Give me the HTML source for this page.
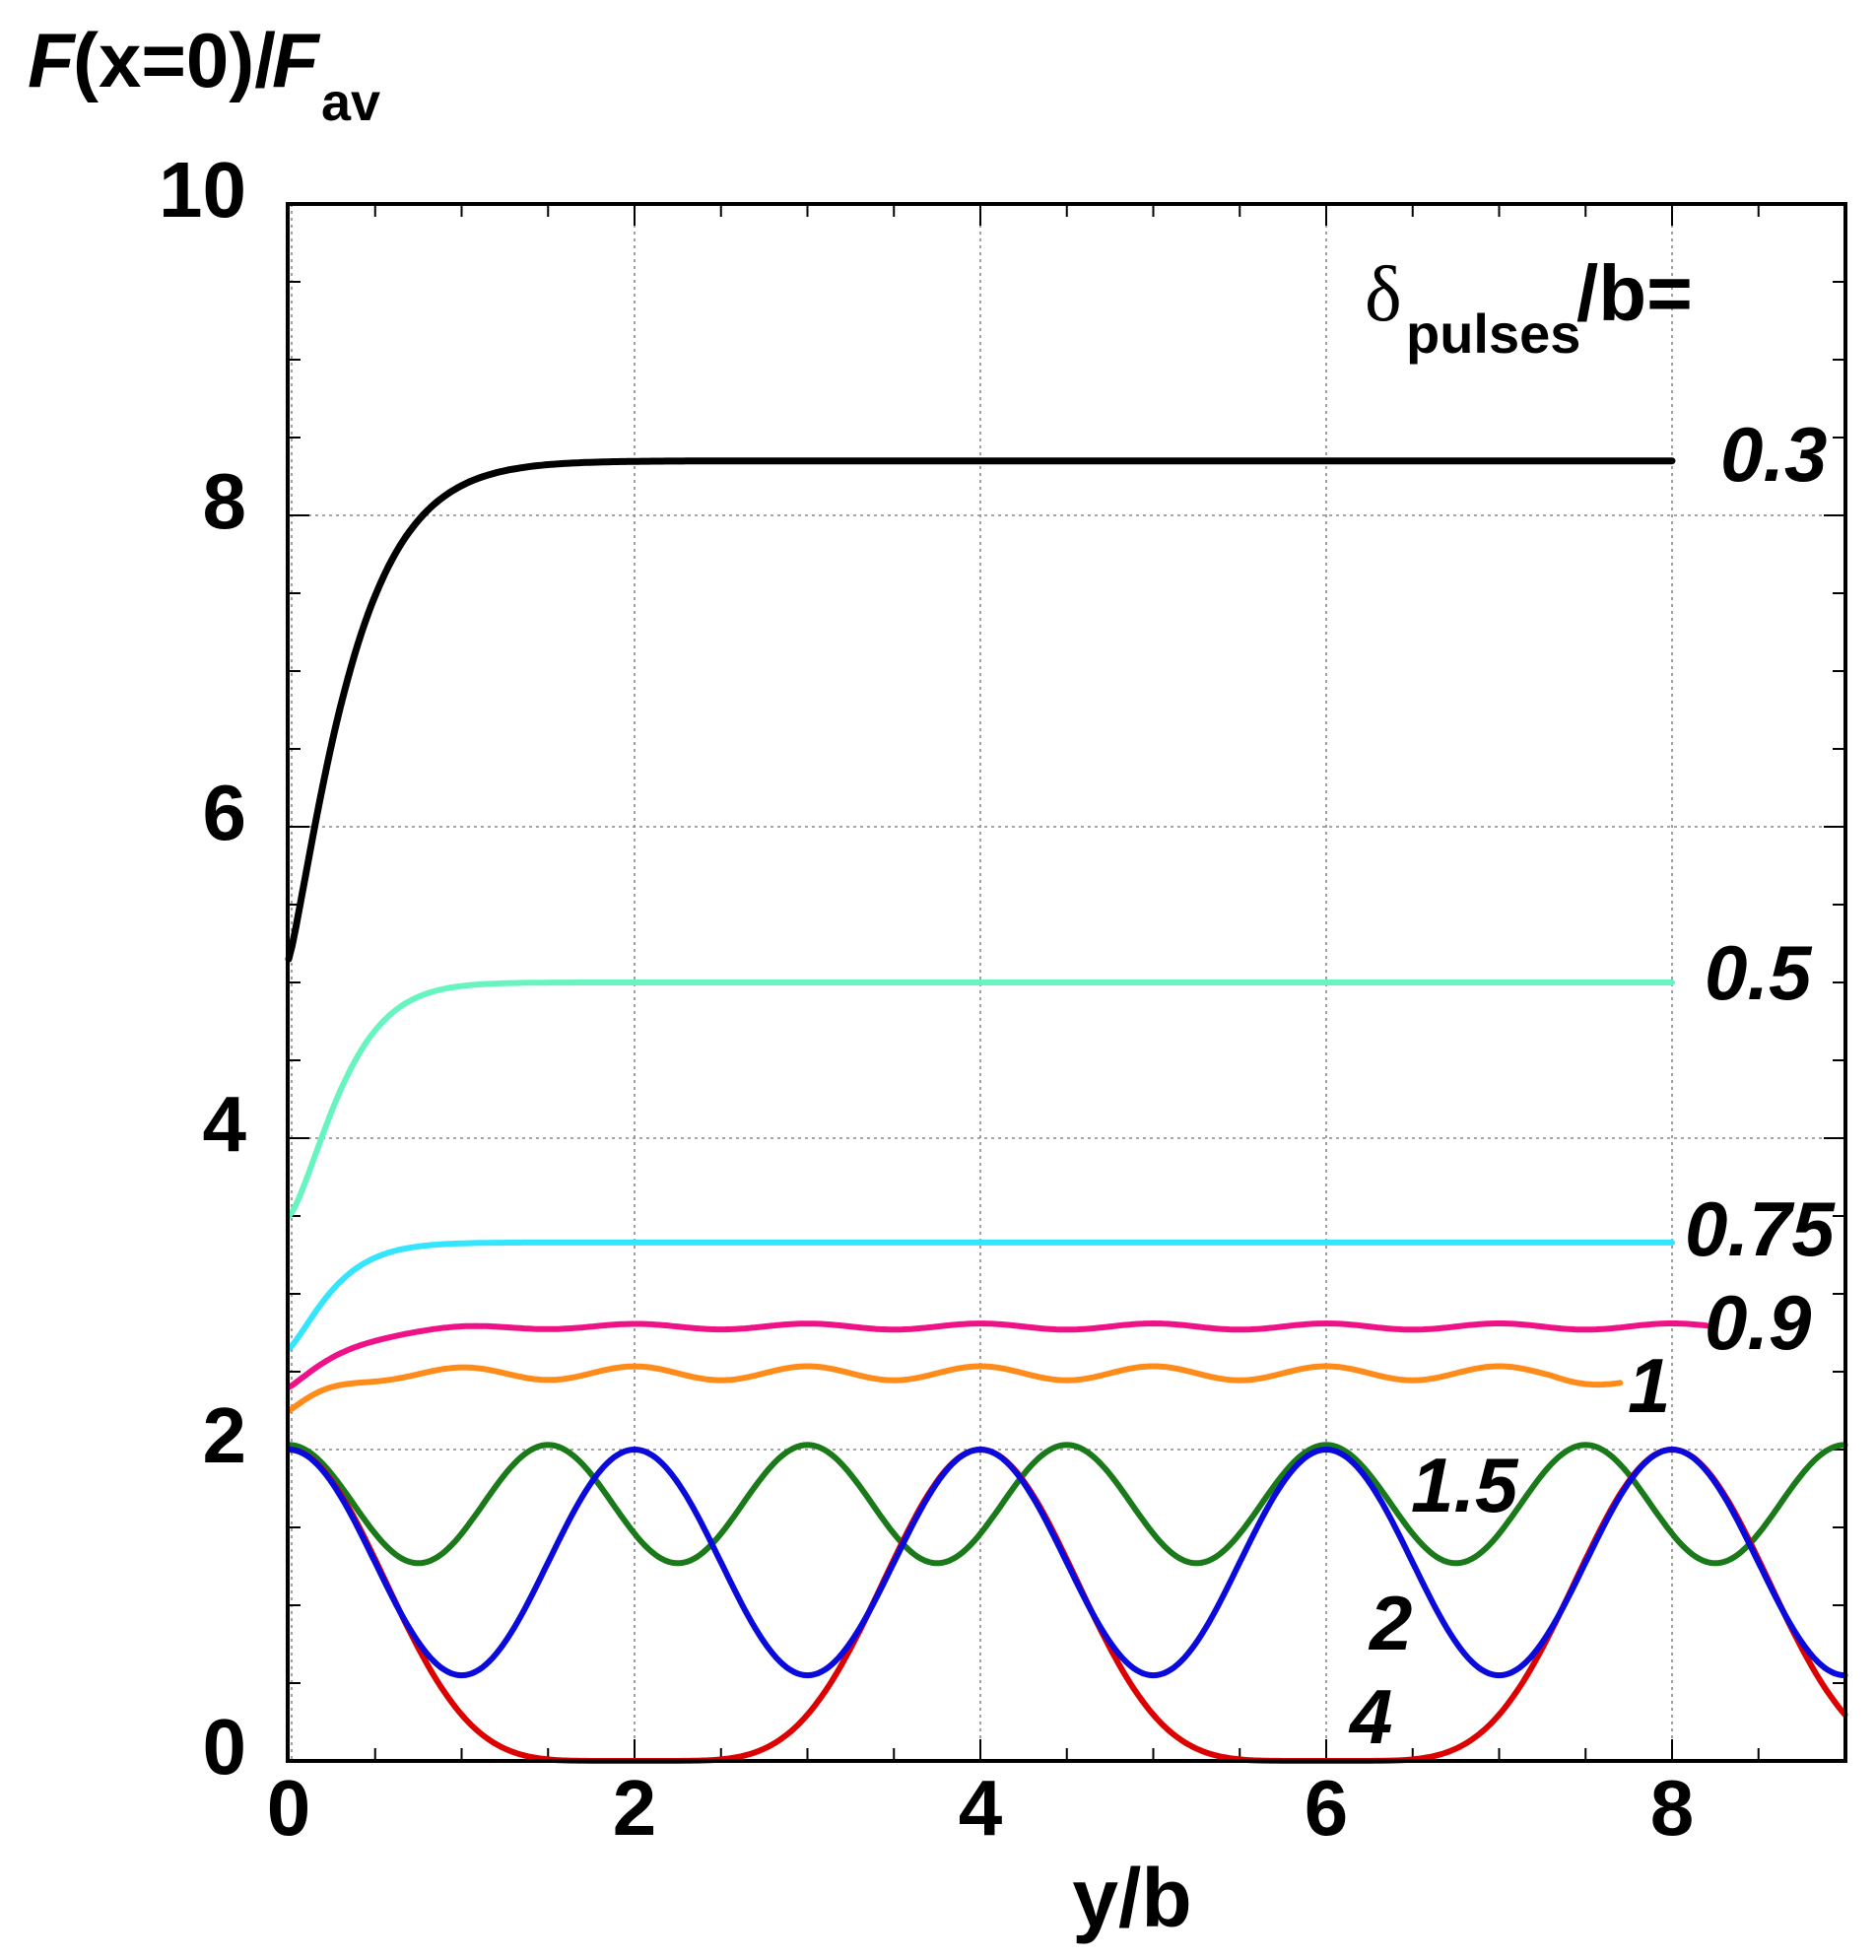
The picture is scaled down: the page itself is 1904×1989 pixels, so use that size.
<!DOCTYPE html>
<html><head><meta charset="utf-8"><style>
html,body{margin:0;padding:0;background:#fff;}
svg{display:block;}
text{font-family:"Liberation Sans",Arial,sans-serif;font-weight:bold;fill:#000;}
</style></head><body>
<svg id="s" width="1904" height="1989" viewBox="0 0 1904 1989" xmlns="http://www.w3.org/2000/svg">
<g id="grid" stroke="#888" stroke-width="1.6" stroke-dasharray="3,4" fill="none"></g>
<g id="ticks" stroke="#000" stroke-width="2" fill="none"></g>
<g id="curves" fill="none" stroke-linejoin="round" stroke-linecap="round"></g>
<rect x="292" y="207" width="1581" height="1580" fill="none" stroke="#000" stroke-width="4"/>
<text x="28" y="88" font-size="78" font-style="italic">F</text>
<text x="74" y="88" font-size="78">(x=0)/</text>
<text x="276" y="88" font-size="78" font-style="italic">F</text>
<text x="326" y="122" font-size="54">av</text>
<g font-size="80" text-anchor="end">
<text x="250" y="220">10</text><text x="250" y="536">8</text><text x="250" y="852">6</text>
<text x="250" y="1168">4</text><text x="250" y="1484">2</text><text x="250" y="1800">0</text>
</g>
<g font-size="80" text-anchor="middle">
<text x="293" y="1862">0</text><text x="644" y="1862">2</text><text x="995" y="1862">4</text>
<text x="1346" y="1862">6</text><text x="1697" y="1862">8</text>
</g>
<text x="1149" y="1955" font-size="84" text-anchor="middle">y/b</text>
<text x="1385" y="325" font-size="80" style="font-family:'Liberation Serif',serif;font-weight:normal">δ</text>
<text x="1427" y="358" font-size="56">pulses</text>
<text x="1600" y="325" font-size="80">/b=</text>
<g font-size="78" font-style="italic">
<text x="1746" y="488">0.3</text>
<text x="1730" y="1014">0.5</text>
<text x="1710" y="1274">0.75</text>
<text x="1730" y="1369">0.9</text>
<text x="1652" y="1433">1</text>
<text x="1432" y="1534">1.5</text>
<text x="1390" y="1674">2</text>
<text x="1370" y="1769">4</text>
</g>
</svg>
<script>
var NS="http://www.w3.org/2000/svg";
function X(x){return 293+175.5*x;}function Y(v){return 1787-158*v;}
function el(p,t,a){var e=document.createElementNS(NS,t);for(var k in a)e.setAttribute(k,a[k]);document.getElementById(p).appendChild(e);}
[2,4,6,8].forEach(function(i){el("grid","line",{x1:X(i),x2:X(i),y1:207,y2:1787});el("grid","line",{x1:292,x2:1873,y1:Y(i),y2:Y(i)});});
el("grid","line",{x1:296,x2:296,y1:207,y2:1787});
for(var i=0.5;i<9;i+=0.5){var L=(i%2==0)?22:13;el("ticks","line",{x1:X(i),x2:X(i),y1:1787,y2:1787-L});el("ticks","line",{x1:X(i),x2:X(i),y1:207,y2:207+L});}
for(var v=0.5;v<10;v+=0.5){var L=(v%2==0)?22:13;el("ticks","line",{x1:292,x2:292+L,y1:Y(v),y2:Y(v)});el("ticks","line",{x1:1873,x2:1873-L,y1:Y(v),y2:Y(v)});}
function curve(f,x1,col,w){var p=[];for(var x=0;x<=x1+1e-9;x+=0.02){p.push(X(x).toFixed(1)+","+Y(f(x)).toFixed(1));}
el("curves","polyline",{points:p.join(" "),stroke:col,"stroke-width":w});}
curve(function(x){return 8.35-3.2*Math.exp(-Math.pow(x/0.4,1.2));},8,"#000",7);
curve(function(x){return 5.0-1.5*Math.exp(-Math.pow(x/0.36,1.4));},8,"#66f5bf",6);
curve(function(x){return 3.33-0.68*Math.exp(-Math.pow(x/0.3,1.3));},8,"#33e5ff",6);
curve(function(x){return 2.79-0.39*Math.exp(-Math.pow(x/0.35,1.2))+0.02*Math.cos(2*Math.PI*x)*(1-Math.exp(-x));},8.2,"#ee1188",6);
curve(function(x){return 2.49-0.24*Math.exp(-Math.pow(x/0.25,1.2))+0.045*Math.cos(2*Math.PI*x)*(1-Math.exp(-2*x))-(x>7.3?0.12*(x-7.3):0);},7.7,"#ff8c1a",6);
curve(function(x){return 1.65+0.38*Math.cos(2*Math.PI*x/1.5);},9,"#1a7a1a",6);
curve(function(x){return 2*Math.pow(Math.abs(Math.cos(Math.PI*x/4)),5.5);},9,"#dd0000",6);
curve(function(x){return 1.275+0.725*Math.cos(Math.PI*x);},9,"#0a0adc",6);
</script>
</body></html>
